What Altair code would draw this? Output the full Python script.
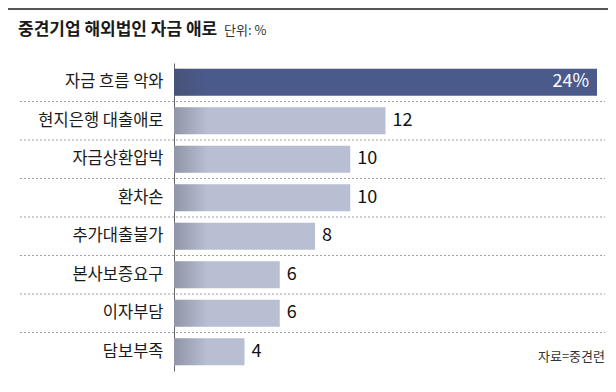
import altair as alt
import pandas as pd

categories = ["자금 흐름 악와", "현지은행 대출애로", "자금상환압박", "환차손",
              "추가대출불가", "본사보증요구", "이자부담", "담보부족"]
values = [24, 12, 10, 10, 8, 6, 6, 4]
title_text = "중견기업 해외법인 자금 애로"
unit_text = "단위: %"
source_text = "자료=중견련"

FONT = "Noto Sans CJK KR"
DARK = "#4a5a8b"
LIGHT = "#b8bfd3"
W, H = 423, 308

df = pd.DataFrame({"cat": categories, "val": values})
df["label"] = [f"{v}%" if i == 0 else str(v) for i, v in enumerate(values)]
one = pd.DataFrame({"t": [title_text], "u": [unit_text], "s": [source_text]})

x_scale = alt.Scale(domain=[0, max(values)], nice=False, zero=True)


def y_enc(axis=None, **kw):
    return alt.Y("cat:N", sort=categories,
                 scale=alt.Scale(domain=categories, paddingInner=0.3, paddingOuter=0.15),
                 axis=axis, title=None, **kw)


y_axis = alt.Axis(ticks=False, domainColor="#666", domainWidth=1, labelFont=FONT,
                  labelFontSize=16.5, labelColor="#1a1a1a", labelPadding=11, labelLimit=220,
                  grid=False)

rules = alt.Chart(df.iloc[:-1]).mark_rule(color="#a0a0a0", strokeDash=[2, 2], strokeWidth=1).encode(
    y=alt.Y("cat:N", sort=categories, bandPosition=1,
            scale=alt.Scale(domain=categories, paddingInner=0, paddingOuter=0), axis=None),
    x=alt.value(-154), x2=alt.value(431),
)

bars = alt.Chart(df).mark_bar().encode(
    x=alt.X("val:Q", scale=x_scale, axis=None),
    y=y_enc(axis=y_axis),
    color=alt.condition(alt.datum.cat == categories[0], alt.value(DARK), alt.value(LIGHT)),
)

shadow = alt.Chart(df).mark_bar(
    fill=alt.Gradient(gradient="linear", x1=0, x2=1, y1=0, y2=0,
                      stops=[alt.GradientStop(color="rgba(70,70,85,0.35)", offset=0),
                             alt.GradientStop(color="rgba(70,70,85,0)", offset=1)])
).encode(
    x=alt.X(datum=0, scale=x_scale, axis=None),
    x2=alt.X2(datum=1.9),
    y=y_enc(),
)

vals = alt.Chart(df).transform_filter(alt.datum.cat != categories[0]).mark_text(
    align="left", baseline="middle", dx=7, font=FONT, fontSize=18, color="#111"
).encode(x=alt.X("val:Q", scale=x_scale, axis=None), y=y_enc(), text="label:N")

top_val = alt.Chart(df).transform_filter(alt.datum.cat == categories[0]).mark_text(
    align="right", baseline="middle", dx=-8, font=FONT, fontSize=18, color="white"
).encode(x=alt.X("val:Q", scale=x_scale, axis=None), y=y_enc(), text="label:N")

top_line = alt.Chart(one).mark_rule(color="#555", strokeWidth=2).encode(
    x=alt.value(-174), x2=alt.value(434), y=alt.value(-54))

title = alt.Chart(one).mark_text(align="left", baseline="middle", font=FONT, fontSize=17,
                                 fontWeight="bold", color="#1a1a1a").encode(
    x=alt.value(-156), y=alt.value(-33), text="t:N")

unit = alt.Chart(one).mark_text(align="left", baseline="middle", font=FONT, fontSize=13,
                                color="#333").encode(
    x=alt.value(50), y=alt.value(-32), text="u:N")

source = alt.Chart(one).mark_text(align="right", baseline="middle", font=FONT, fontSize=13,
                                  color="#333").encode(
    x=alt.value(431), y=alt.value(294), text="s:N")

chart = alt.layer(rules, bars, shadow, vals, top_val, top_line, title, unit, source).resolve_scale(
    y="independent"
).properties(
    width=W, height=H,
    autosize=alt.AutoSizeParams(type="none"),
    padding={"left": 166, "top": 55, "right": 11, "bottom": 13},
).configure_view(stroke=None)

chart.save("out.html", embed_options={"renderer": "svg", "actions": False})
